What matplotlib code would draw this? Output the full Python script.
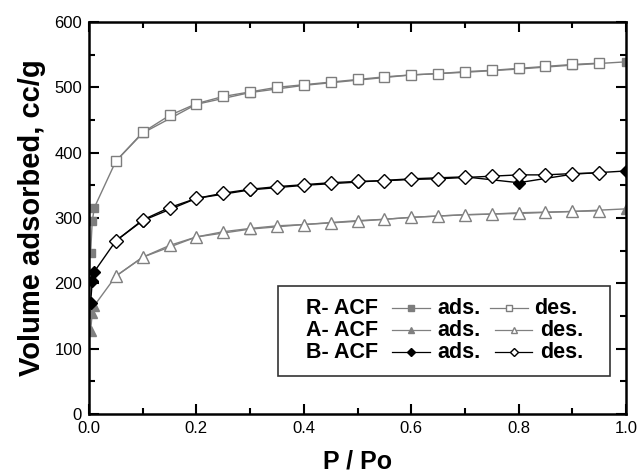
import matplotlib
matplotlib.use("Agg")
import matplotlib.pyplot as plt
from matplotlib.patches import Rectangle
from matplotlib.ticker import MultipleLocator

plt.rcParams['font.family'] = ['Liberation Sans', 'DejaVu Sans']

# adsorption branch (filled markers)
p_ads = [0.003, 0.006, 0.01, 0.05, 0.1, 0.2, 0.3, 0.4, 0.5, 0.6, 0.7, 0.8, 0.9, 1.0]
r_ads = [246, 295, 316, 387, 430, 474, 492, 503, 511, 519, 523, 528, 534, 539]
a_ads = [127, 155, 166, 211, 240, 271, 283, 290, 295, 301, 305, 307, 310, 314]
b_ads = [170, 203, 218, 265, 296, 330, 343, 350, 355, 360, 363, 354, 367, 372]

# desorption branch (open markers)
p_des = [0.05, 0.1, 0.15, 0.2, 0.25, 0.3, 0.35, 0.4, 0.45, 0.5,
         0.55, 0.6, 0.65, 0.7, 0.75, 0.8, 0.85, 0.9, 0.95]
r_des = [387, 431, 457, 475, 486, 493, 500, 504, 508, 512,
         516, 519, 521, 524, 526, 529, 532, 535, 537]
a_des = [211, 240, 258, 271, 279, 284, 288, 290, 293, 296,
         298, 301, 303, 305, 306, 308, 309, 310, 311]
b_des = [265, 297, 316, 330, 338, 344, 348, 351, 354, 356,
         357, 359, 360, 362, 364, 366, 366, 368, 369]

samples = ["R- ACF", "A- ACF", "B- ACF"]
colors = ["#7d7d7d", "#808080", "#000000"]
markers = ["s", "^", "D"]
sizes = [6.5, 8, 7]

fig = plt.figure(figsize=(6.38, 4.75), dpi=100)
ax = fig.add_axes([0.1395, 0.1284, 0.8417, 0.8253])

ads_sets = [r_ads, a_ads, b_ads]
des_sets = [r_des, a_des, b_des]
for ads, des, c, m, ms in zip(ads_sets, des_sets, colors, markers, sizes):
    ax.plot(p_ads, ads, color=c, lw=1.0, marker=m, ms=ms * 0.85,
            mfc=c, mec=c, zorder=2)
    ax.plot(p_des, des, color=c, lw=1.0, marker=m, ms=ms,
            mfc="white", mec=c, mew=1.0, zorder=3)

ax.set_xlim(0, 1.0)
ax.set_ylim(0, 600)
ax.xaxis.set_major_locator(MultipleLocator(0.2))
ax.xaxis.set_minor_locator(MultipleLocator(0.1))
ax.yaxis.set_major_locator(MultipleLocator(100))
ax.yaxis.set_minor_locator(MultipleLocator(50))
ax.tick_params(which="both", direction="in", top=True, right=True,
               labelsize=12, width=1.5)
ax.tick_params(which="major", length=7, pad=5)
ax.tick_params(which="minor", length=4)
for s in ax.spines.values():
    s.set_linewidth(1.8)

ax.set_xlabel("P / Po", fontsize=18, fontweight="bold", labelpad=10)
ax.set_ylabel("Volume adsorbed, cc/g", fontsize=21, fontweight="bold",
              labelpad=6)

# hand-made legend box (Origin style)
tr = ax.transAxes
ax.add_patch(Rectangle((0.352, 0.097), 0.619, 0.23, transform=tr,
                       fill=True, facecolor="white", edgecolor="#333333",
                       lw=1.2, zorder=5))
rows_y = [0.270, 0.214, 0.157]
key2_x = [(0.747, 0.818, 0.829), (0.756, 0.825, 0.840), (0.756, 0.825, 0.840)]
for name, y, c, m, k2 in zip(samples, rows_y, colors, markers, key2_x):
    ax.text(0.404, y, name, transform=tr, fontsize=15.5, fontweight="bold",
            va="center", ha="left", zorder=6)
    ax.plot([0.564, 0.5995, 0.635], [y, y, y], transform=tr, color=c,
            lw=0.9, marker=m, ms=4, mfc=c, mec=c, markevery=[1],
            clip_on=False, zorder=6)
    ax.text(0.648, y, "ads.", transform=tr, fontsize=15.5, fontweight="bold",
            va="center", ha="left", zorder=6)
    xm = (k2[0] + k2[1]) / 2
    ax.plot([k2[0], xm, k2[1]], [y, y, y], transform=tr, color=c,
            lw=0.9, marker=m, ms=4.5, mfc="white", mec=c, markevery=[1],
            clip_on=False, zorder=6)
    ax.text(k2[2], y, "des.", transform=tr, fontsize=15.5, fontweight="bold",
            va="center", ha="left", zorder=6)

fig.savefig("out.png", dpi=100)
